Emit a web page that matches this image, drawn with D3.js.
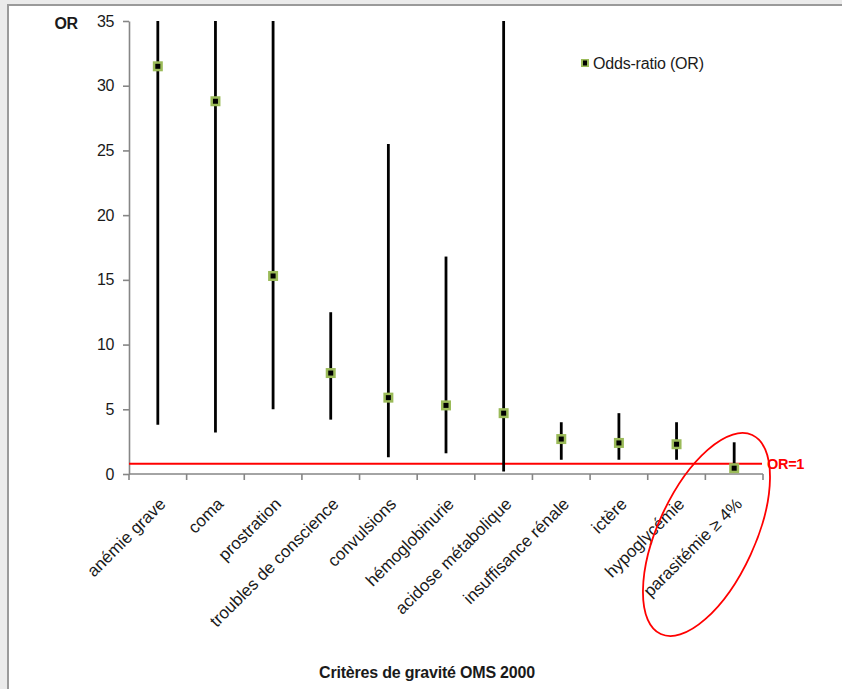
<!DOCTYPE html>
<html>
<head>
<meta charset="utf-8">
<script src="https://cdn.jsdelivr.net/npm/d3@7"></script>
<style>
  html, body { margin: 0; padding: 0; background: #ebebeb; }
  svg { display: block; }
  text { font-family: "Liberation Sans", Arial, sans-serif; }
</style>
</head>
<body>
<svg id="chart" width="842" height="689"></svg>
<script>
const categories = ["anémie grave", "coma", "prostration", "troubles de conscience", "convulsions",
  "hémoglobinurie", "acidose métabolique", "insuffisance rénale", "ictère", "hypoglycémie", "parasitémie ≥ 4%"];
const orValues = [31.5, 28.8, 15.3, 7.8, 5.9, 5.3, 4.7, 2.7, 2.4, 2.3, 0.45];
const ciLow    = [3.8, 3.2, 5.0, 4.2, 1.3, 1.6, 0.2, 1.1, 1.1, 1.1, 0.1];
const ciHigh   = [35, 35, 35, 12.5, 25.5, 16.8, 35, 4.0, 4.7, 4.0, 2.45];
const yTicks   = [0, 5, 10, 15, 20, 25, 30, 35];
const refValue = 0.8;
const refLabel = "OR=1";
const legendLabel = "Odds-ratio (OR)";
const xTitle = "Critères de gravité OMS 2000";
const yTitle = "OR";

(function () {
const svg = d3.select("#chart");
// chart area frame
svg.append("rect").attr("x", 8).attr("y", 5).attr("width", 900).attr("height", 760)
  .attr("fill", "#ffffff").attr("stroke", "#9a9a9a").attr("stroke-width", 2);

const mLeft = 129, mRight = 763, mTop = 21, mBottom = 474;
const x = d3.scaleBand().domain(categories).range([mLeft, mRight]);
const y = d3.scaleLinear().domain([0, 35]).range([mBottom, mTop]);
const axisColor = "#868686";

// Y axis
const yAxis = svg.append("g").attr("transform", `translate(${mLeft},0)`)
  .call(d3.axisLeft(y).tickValues(yTicks).tickSize(6).tickPadding(9).tickSizeOuter(0));
yAxis.select(".domain").attr("stroke", axisColor).attr("stroke-width", 1.6);
yAxis.selectAll(".tick line").attr("stroke", axisColor).attr("stroke-width", 1.6);
yAxis.selectAll(".tick text").attr("font-size", 16).attr("fill", "#1a1a1a")
  .attr("font-family", "'Liberation Sans', Arial, sans-serif").attr("letter-spacing", -0.4);

// X axis
const xAxis = svg.append("g").attr("transform", `translate(0,${mBottom})`)
  .call(d3.axisBottom(x).tickSize(0).tickFormat(""));
xAxis.select(".domain").remove();
xAxis.selectAll(".tick").remove();
xAxis.append("line").attr("x1", mLeft).attr("x2", mRight).attr("y1", 0).attr("y2", 0)
  .attr("stroke", axisColor).attr("stroke-width", 1.6);
const bounds = categories.map(c => x(c)).concat([x(categories[categories.length - 1]) + x.bandwidth()]);
xAxis.selectAll("line.bt").data(bounds).enter().append("line").attr("class", "bt")
  .attr("x1", d => d).attr("x2", d => d).attr("y1", 0).attr("y2", 6)
  .attr("stroke", axisColor).attr("stroke-width", 1.6);

// Category labels
svg.append("g").selectAll("text").data(categories).enter().append("text")
  .attr("transform", d => `translate(${x(d) + x.bandwidth() / 2 + 9},${mBottom + 31}) rotate(-45)`)
  .attr("text-anchor", "end").attr("font-size", 17).attr("fill", "#1a1a1a")
  .text(d => d);

// Reference line
svg.append("line").attr("x1", mLeft).attr("x2", mRight - 1)
  .attr("y1", y(refValue)).attr("y2", y(refValue))
  .attr("stroke", "#ff0000").attr("stroke-width", 2);
svg.append("text").attr("x", mRight + 4).attr("y", y(refValue) + 5.5)
  .attr("font-size", 14.5).attr("font-weight", "bold").attr("fill", "#ff0000")
  .attr("letter-spacing", -0.3).text(refLabel);

// Error bars
const cx = i => x(categories[i]) + x.bandwidth() / 2;
svg.append("g").selectAll("line").data(orValues).enter().append("line")
  .attr("x1", (d, i) => cx(i)).attr("x2", (d, i) => cx(i))
  .attr("y1", (d, i) => y(Math.min(ciHigh[i], 35))).attr("y2", (d, i) => y(ciLow[i]))
  .attr("stroke", "#000").attr("stroke-width", 2.8);

// Markers
const mk = svg.append("g").selectAll("g").data(orValues).enter().append("g")
  .attr("transform", (d, i) => `translate(${cx(i)},${y(d)})`);
mk.append("rect").attr("x", -5).attr("y", -5).attr("width", 10).attr("height", 10).attr("fill", "#9bbb59");
mk.append("rect").attr("x", -2.5).attr("y", -2.5).attr("width", 5).attr("height", 5).attr("fill", "#000");

// Legend
const lg = svg.append("g").attr("transform", "translate(585,63)");
lg.append("rect").attr("x", -4).attr("y", -4).attr("width", 8).attr("height", 8).attr("fill", "#9bbb59");
lg.append("rect").attr("x", -2).attr("y", -2.5).attr("width", 4).attr("height", 5).attr("fill", "#000");
lg.append("text").attr("x", 8).attr("y", 6).attr("font-size", 16).attr("fill", "#1a1a1a")
  .attr("letter-spacing", -0.2).text(legendLabel);

// Titles
svg.append("text").attr("x", 66).attr("y", 29).attr("text-anchor", "middle")
  .attr("font-size", 16).attr("font-weight", "bold").attr("fill", "#1a1a1a")
  .attr("letter-spacing", -0.5).text(yTitle);
svg.append("text").attr("x", 427).attr("y", 678).attr("text-anchor", "middle")
  .attr("font-size", 16).attr("font-weight", "bold").attr("fill", "#1a1a1a")
  .attr("letter-spacing", -0.2).text(xTitle);

// Highlight ellipse
svg.append("ellipse").attr("cx", 0).attr("cy", 0).attr("rx", 48.5).attr("ry", 109.5)
  .attr("transform", `translate(${cx(10) - 27.7},534.5) rotate(24.7)`)
  .attr("fill", "none").attr("stroke", "#ff0000").attr("stroke-width", 1.8);
})();
</script>
</body>
</html>
